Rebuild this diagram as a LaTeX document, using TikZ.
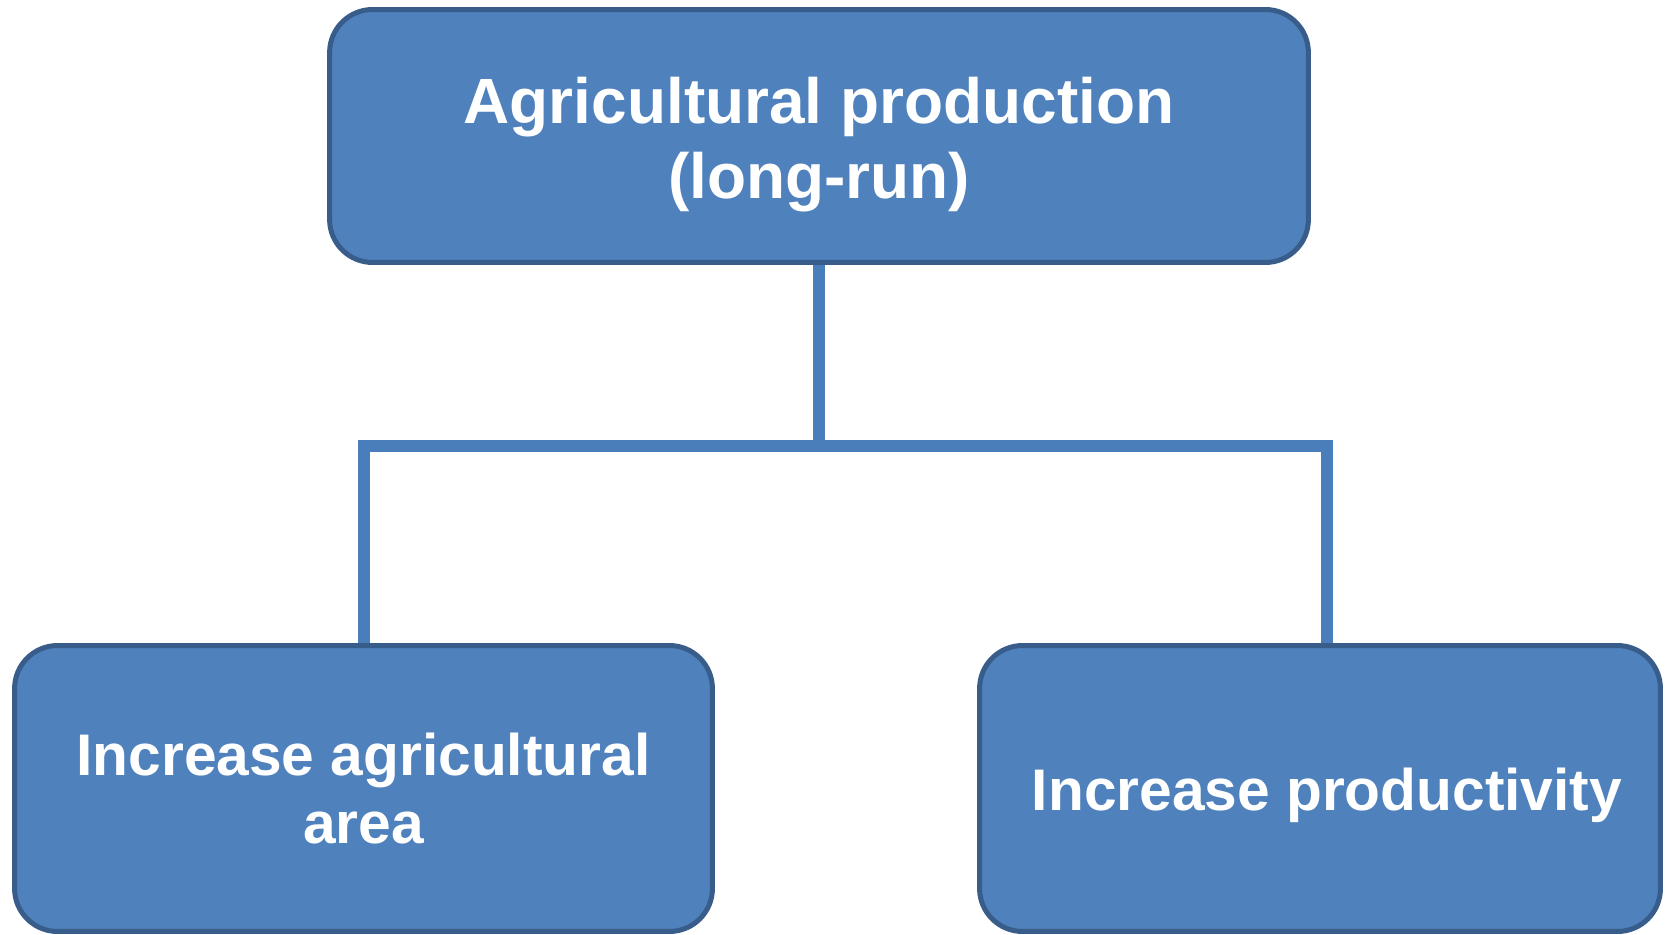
\documentclass[tikz,border=0pt]{standalone}
\usepackage{fontspec}
\setmainfont{Liberation Sans}
\usepackage{xcolor}
\usepackage{tikz}
\definecolor{boxfill}{HTML}{4F81BD}
\definecolor{boxline}{HTML}{385D8A}
\definecolor{linkblue}{HTML}{4A7EBB}

\tikzset{
	goalbox/.style = {draw = boxline, fill = boxfill, line width = 0.1cm, rounded corners = 0.86cm,
		text = white, align = center, font = \bfseries\fontsize{33.4}{38.7}\selectfont},
	link/.style = {draw = linkblue, line width = 0.24cm}
}

\begin{document}
\begin{tikzpicture}[x = 0.02cm, y = -0.02cm]
	\useasboundingbox (0,0) rectangle (1666,935);
	
	\node [goalbox, minimum width = 19.58cm, minimum height = 5.06cm, font = \bfseries\fontsize{36.4}{42.7}\selectfont] (prod) at (819,136) {\rule{0pt}{1.28cm}Agricultural production\\(long-run)};
	
	\node [goalbox, minimum width = 13.96cm, minimum height = 5.72cm] (area) at (363.5,788.5) {Increase agricultural\\area};
	\node [goalbox, minimum width = 13.62cm, minimum height = 5.72cm] (yield) at (1320,788.5) {\rule{0pt}{1.14cm}\hspace*{0.28cm}Increase productivity};
	
	\coordinate (split) at (819,446);
	\coordinate (turn) at (1327,446);
	
	\draw [link] (prod.south) -- (split);
	\draw [link] (split) -| (area.north);
	\draw [link] (split) -- (turn) -- (turn |- yield.north);
\end{tikzpicture}
\end{document}
